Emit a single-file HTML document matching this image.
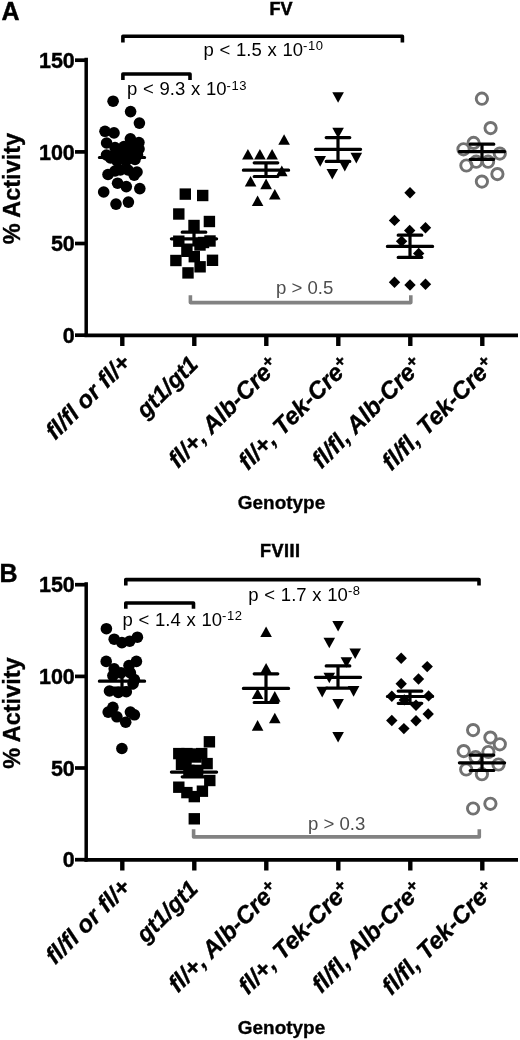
<!DOCTYPE html>
<html><head><meta charset="utf-8"><title>FV FVIII activity</title>
<style>html,body{margin:0;padding:0;background:#fff;}body{width:520px;height:1040px;overflow:hidden;font-family:"Liberation Sans", sans-serif;}svg{display:block;will-change:transform;}</style>
</head><body>
<svg width="520" height="1040" viewBox="0 0 520 1040" font-family='"Liberation Sans", sans-serif'>
<rect width="520" height="1040" fill="#fff"/>
<text x="1.5" y="20" font-weight="bold" font-size="25" stroke="#000" stroke-width="0.4">A</text>
<text x="281" y="15.4" text-anchor="middle" font-weight="bold" font-size="18" stroke="#000" stroke-width="0.5">FV</text>
<path d="M122.9 42.4V36.2H402.4V42.4" stroke="#000" stroke-width="3.6" fill="none" stroke-linejoin="round"/>
<text x="203.5" y="56" font-size="18.5" fill="#000"><tspan word-spacing="0.6">p &lt; 1.5 x 10</tspan><tspan font-size="13" dy="-5.8" letter-spacing="0.6">-10</tspan></text>
<path d="M122.9 80V74H190V80" stroke="#000" stroke-width="3.6" fill="none" stroke-linejoin="round"/>
<text x="127" y="95.3" font-size="18.5" fill="#000"><tspan word-spacing="0.6">p &lt; 9.3 x 10</tspan><tspan font-size="13" dy="-5.8" letter-spacing="0.6">-13</tspan></text>
<path d="M190.4 295.2V302.6H410.8V295.2" stroke="#828282" stroke-width="3.6" fill="none" stroke-linejoin="round"/>
<text x="276" y="293.5" font-size="18.6" fill="#4d4d4d">p &gt; 0.5</text>
<path d="M86.2 57.8V337.0" stroke="#000" stroke-width="3.5" fill="none"/>
<path d="M75 335.2H87" stroke="#000" stroke-width="3.7" fill="none"/>
<text x="74.8" y="342.9" text-anchor="end" font-weight="bold" font-size="21.5" stroke="#000" stroke-width="0.4">0</text>
<path d="M75 243.5H87" stroke="#000" stroke-width="3.7" fill="none"/>
<text x="74.8" y="251.2" text-anchor="end" font-weight="bold" font-size="21.5" stroke="#000" stroke-width="0.4">50</text>
<path d="M75 151.9H87" stroke="#000" stroke-width="3.7" fill="none"/>
<text x="74.8" y="159.6" text-anchor="end" font-weight="bold" font-size="21.5" stroke="#000" stroke-width="0.4">100</text>
<path d="M75 60.2H87" stroke="#000" stroke-width="3.7" fill="none"/>
<text x="74.8" y="67.9" text-anchor="end" font-weight="bold" font-size="21.5" stroke="#000" stroke-width="0.4">150</text>
<path d="M84.5 335.3H518" stroke="#000" stroke-width="3.8" fill="none"/>
<path d="M122.3 335.0V346.0" stroke="#000" stroke-width="4.4" fill="none"/>
<path d="M194.3 335.0V346.0" stroke="#000" stroke-width="4.4" fill="none"/>
<path d="M266.3 335.0V346.0" stroke="#000" stroke-width="4.4" fill="none"/>
<path d="M338.3 335.0V346.0" stroke="#000" stroke-width="4.4" fill="none"/>
<path d="M410.3 335.0V346.0" stroke="#000" stroke-width="4.4" fill="none"/>
<path d="M482.3 335.0V346.0" stroke="#000" stroke-width="4.4" fill="none"/>
<text transform="translate(19.8,188.6) rotate(-90)" text-anchor="middle" font-weight="bold" font-size="23.5" stroke="#000" stroke-width="0.35">% Activity</text>
<text x="281.5" y="509.2" text-anchor="middle" font-weight="bold" font-size="18.5" textLength="87.5" lengthAdjust="spacingAndGlyphs" stroke="#000" stroke-width="0.3">Genotype</text>
<text transform="translate(132,364.0) rotate(-45)" text-anchor="end" font-weight="bold" font-style="italic" font-size="24" stroke="#000" stroke-width="0.35">fl/fl or fl/+</text>
<text transform="translate(199.5,365.5) rotate(-45)" text-anchor="end" font-weight="bold" font-style="italic" font-size="23.2" stroke="#000" stroke-width="0.35">gt1/gt1</text>
<text transform="translate(280,367.0) rotate(-45)" text-anchor="end" font-weight="bold" font-style="italic" font-size="24" stroke="#000" stroke-width="0.35">fl/+, Alb-Cre<tspan font-size="17" dy="-7">+</tspan></text>
<text transform="translate(352,367.0) rotate(-45)" text-anchor="end" font-weight="bold" font-style="italic" font-size="24" stroke="#000" stroke-width="0.35">fl/+, Tek-Cre<tspan font-size="17" dy="-7">+</tspan></text>
<text transform="translate(424,367.0) rotate(-45)" text-anchor="end" font-weight="bold" font-style="italic" font-size="24" stroke="#000" stroke-width="0.35">fl/fl, Alb-Cre<tspan font-size="17" dy="-7">+</tspan></text>
<text transform="translate(496,367.0) rotate(-45)" text-anchor="end" font-weight="bold" font-style="italic" font-size="24" stroke="#000" stroke-width="0.35">fl/fl, Tek-Cre<tspan font-size="17" dy="-7">+</tspan></text>
<g fill="#000">
<circle cx="113.1" cy="101.2" r="5.8"/>
<circle cx="130.6" cy="111.6" r="5.8"/>
<circle cx="139.4" cy="123.1" r="5.8"/>
<circle cx="105.0" cy="131.3" r="5.8"/>
<circle cx="114.0" cy="132.9" r="5.8"/>
<circle cx="106.6" cy="143.0" r="5.8"/>
<circle cx="130.4" cy="138.8" r="5.8"/>
<circle cx="138.9" cy="142.5" r="5.8"/>
<circle cx="115.0" cy="147.5" r="5.8"/>
<circle cx="124.0" cy="146.5" r="5.8"/>
<circle cx="133.0" cy="147.5" r="5.8"/>
<circle cx="139.0" cy="149.0" r="5.8"/>
<circle cx="106.5" cy="155.0" r="5.8"/>
<circle cx="113.0" cy="156.0" r="5.8"/>
<circle cx="121.0" cy="153.0" r="5.8"/>
<circle cx="130.0" cy="154.0" r="5.8"/>
<circle cx="137.5" cy="155.0" r="5.8"/>
<circle cx="110.5" cy="158.0" r="5.8"/>
<circle cx="117.0" cy="161.0" r="5.8"/>
<circle cx="126.0" cy="161.0" r="5.8"/>
<circle cx="135.0" cy="159.5" r="5.8"/>
<circle cx="108.0" cy="174.5" r="5.8"/>
<circle cx="115.0" cy="171.0" r="5.8"/>
<circle cx="120.4" cy="170.0" r="5.8"/>
<circle cx="128.0" cy="170.0" r="5.8"/>
<circle cx="134.2" cy="175.2" r="5.8"/>
<circle cx="137.0" cy="172.0" r="5.8"/>
<circle cx="117.6" cy="183.2" r="5.8"/>
<circle cx="126.3" cy="186.6" r="5.8"/>
<circle cx="139.8" cy="188.6" r="5.8"/>
<circle cx="103.7" cy="192.0" r="5.8"/>
<circle cx="116.0" cy="204.1" r="5.8"/>
<circle cx="128.4" cy="202.1" r="5.8"/>
<rect x="179.6" y="188.4" width="11.4" height="11.4"/>
<rect x="197.0" y="189.8" width="11.4" height="11.4"/>
<rect x="173.1" y="208.3" width="11.4" height="11.4"/>
<rect x="203.7" y="215.8" width="11.4" height="11.4"/>
<rect x="188.3" y="219.8" width="11.4" height="11.4"/>
<rect x="173.1" y="235.5" width="11.4" height="11.4"/>
<rect x="197.8" y="236.8" width="11.4" height="11.4"/>
<rect x="204.3" y="235.3" width="11.4" height="11.4"/>
<rect x="194.3" y="239.3" width="11.4" height="11.4"/>
<rect x="181.2" y="245.6" width="11.4" height="11.4"/>
<rect x="188.6" y="251.0" width="11.4" height="11.4"/>
<rect x="170.2" y="254.8" width="11.4" height="11.4"/>
<rect x="206.8" y="254.6" width="11.4" height="11.4"/>
<rect x="194.4" y="261.1" width="11.4" height="11.4"/>
<rect x="182.3" y="267.2" width="11.4" height="11.4"/>
<path d="M284.1 134.2L289.9 144.8L278.3 144.8Z"/>
<path d="M247.9 149.0L253.7 159.6L242.1 159.6Z"/>
<path d="M259.9 149.0L265.7 159.6L254.1 159.6Z"/>
<path d="M272.1 149.0L277.9 159.6L266.3 159.6Z"/>
<path d="M281.8 165.6L287.6 176.2L276.0 176.2Z"/>
<path d="M250.6 175.9L256.4 186.5L244.8 186.5Z"/>
<path d="M266.1 178.6L271.9 189.2L260.3 189.2Z"/>
<path d="M274.8 189.0L280.6 199.6L269.0 199.6Z"/>
<path d="M257.6 195.5L263.4 206.1L251.8 206.1Z"/>
<path d="M332.3 92.2L343.9 92.2L338.1 102.8Z"/>
<path d="M332.3 127.7L343.9 127.7L338.1 138.3Z"/>
<path d="M314.4 156.1L326.0 156.1L320.2 166.7Z"/>
<path d="M350.5 152.8L362.1 152.8L356.3 163.4Z"/>
<path d="M339.0 160.8L350.6 160.8L344.8 171.4Z"/>
<path d="M326.5 168.9L338.1 168.9L332.3 179.5Z"/>
<path d="M410.0 187.1L415.7 192.8L410.0 198.5L404.3 192.8Z"/>
<path d="M394.5 214.7L400.2 220.4L394.5 226.1L388.8 220.4Z"/>
<path d="M425.5 222.1L431.2 227.8L425.5 233.5L419.8 227.8Z"/>
<path d="M409.7 224.8L415.4 230.5L409.7 236.2L404.0 230.5Z"/>
<path d="M401.6 235.5L407.3 241.2L401.6 246.9L395.9 241.2Z"/>
<path d="M418.7 247.7L424.4 253.4L418.7 259.1L413.0 253.4Z"/>
<path d="M394.5 276.6L400.2 282.3L394.5 288.0L388.8 282.3Z"/>
<path d="M410.0 279.3L415.7 285.0L410.0 290.7L404.3 285.0Z"/>
<path d="M425.5 278.6L431.2 284.3L425.5 290.0L419.8 284.3Z"/>
<circle cx="481.9" cy="98.7" r="5.65" fill="none" stroke="#727272" stroke-width="2.9"/>
<circle cx="490.6" cy="128.1" r="5.65" fill="none" stroke="#727272" stroke-width="2.9"/>
<circle cx="473.6" cy="142.9" r="5.65" fill="none" stroke="#727272" stroke-width="2.9"/>
<circle cx="463.5" cy="149.3" r="5.65" fill="none" stroke="#727272" stroke-width="2.9"/>
<circle cx="499.8" cy="153.6" r="5.65" fill="none" stroke="#727272" stroke-width="2.9"/>
<circle cx="476.2" cy="161.7" r="5.65" fill="none" stroke="#727272" stroke-width="2.9"/>
<circle cx="488.1" cy="161.7" r="5.65" fill="none" stroke="#727272" stroke-width="2.9"/>
<circle cx="466.4" cy="165.5" r="5.65" fill="none" stroke="#727272" stroke-width="2.9"/>
<circle cx="497.4" cy="174.1" r="5.65" fill="none" stroke="#727272" stroke-width="2.9"/>
<circle cx="481.9" cy="181.6" r="5.65" fill="none" stroke="#727272" stroke-width="2.9"/>
</g>
<path d="M99.4 157.5H144.6M110.2 153.5H133.8M110.2 161.5H133.8M122.0 153.5V161.5" stroke="#000" stroke-width="3.2" fill="none" stroke-linecap="round"/>
<path d="M171.4 238.8H216.6M182.2 232.2H205.8M182.2 245.0H205.8M194.0 232.2V245.0" stroke="#000" stroke-width="3.2" fill="none" stroke-linecap="round"/>
<path d="M243.4 170.2H288.6M254.2 162.8H277.8M254.2 176.5H277.8M266.0 162.8V176.5" stroke="#000" stroke-width="3.2" fill="none" stroke-linecap="round"/>
<path d="M315.4 149.3H360.6M326.2 137.6H349.8M326.2 161.4H349.8M338.0 137.6V161.4" stroke="#000" stroke-width="3.2" fill="none" stroke-linecap="round"/>
<path d="M387.4 246.4H432.6M398.2 235.2H421.8M398.2 257.4H421.8M410.0 235.2V257.4" stroke="#000" stroke-width="3.2" fill="none" stroke-linecap="round"/>
<path d="M459.4 151.6H504.6M470.2 144.2H493.8M470.2 159.3H493.8M482.0 144.2V159.3" stroke="#000" stroke-width="3.2" fill="none" stroke-linecap="round"/>
<text x="-0.5" y="581.5" font-weight="bold" font-size="25" stroke="#000" stroke-width="0.4">B</text>
<text x="280.1" y="556.6" text-anchor="middle" font-weight="bold" font-size="18" textLength="40" lengthAdjust="spacing" stroke="#000" stroke-width="0.5">FVIII</text>
<path d="M125.8 585.6V579.6H479V585.6" stroke="#000" stroke-width="3.6" fill="none" stroke-linejoin="round"/>
<text x="248.3" y="601" font-size="18.5" fill="#000"><tspan word-spacing="0.6">p &lt; 1.7 x 10</tspan><tspan font-size="13" dy="-5.8" letter-spacing="0.6">-8</tspan></text>
<path d="M125.8 608.8V603H193.5V608.8" stroke="#000" stroke-width="3.6" fill="none" stroke-linejoin="round"/>
<text x="122.5" y="626" font-size="18.5" fill="#000"><tspan word-spacing="0.6">p &lt; 1.4 x 10</tspan><tspan font-size="13" dy="-5.8" letter-spacing="0.6">-12</tspan></text>
<path d="M193.6 829.3V836.9H479.3V829.3" stroke="#828282" stroke-width="3.6" fill="none" stroke-linejoin="round"/>
<text x="308" y="830" font-size="18.6" fill="#4d4d4d">p &gt; 0.3</text>
<path d="M86.2 582.3V861.5" stroke="#000" stroke-width="3.5" fill="none"/>
<path d="M75 859.7H87" stroke="#000" stroke-width="3.7" fill="none"/>
<text x="74.8" y="867.4" text-anchor="end" font-weight="bold" font-size="21.5" stroke="#000" stroke-width="0.4">0</text>
<path d="M75 768.0H87" stroke="#000" stroke-width="3.7" fill="none"/>
<text x="74.8" y="775.7" text-anchor="end" font-weight="bold" font-size="21.5" stroke="#000" stroke-width="0.4">50</text>
<path d="M75 676.4H87" stroke="#000" stroke-width="3.7" fill="none"/>
<text x="74.8" y="684.1" text-anchor="end" font-weight="bold" font-size="21.5" stroke="#000" stroke-width="0.4">100</text>
<path d="M75 584.7H87" stroke="#000" stroke-width="3.7" fill="none"/>
<text x="74.8" y="592.4" text-anchor="end" font-weight="bold" font-size="21.5" stroke="#000" stroke-width="0.4">150</text>
<path d="M84.5 859.8H518" stroke="#000" stroke-width="3.8" fill="none"/>
<path d="M122.3 859.5V870.5" stroke="#000" stroke-width="4.4" fill="none"/>
<path d="M194.3 859.5V870.5" stroke="#000" stroke-width="4.4" fill="none"/>
<path d="M266.3 859.5V870.5" stroke="#000" stroke-width="4.4" fill="none"/>
<path d="M338.3 859.5V870.5" stroke="#000" stroke-width="4.4" fill="none"/>
<path d="M410.3 859.5V870.5" stroke="#000" stroke-width="4.4" fill="none"/>
<path d="M482.3 859.5V870.5" stroke="#000" stroke-width="4.4" fill="none"/>
<text transform="translate(19.8,713.1) rotate(-90)" text-anchor="middle" font-weight="bold" font-size="23.5" stroke="#000" stroke-width="0.35">% Activity</text>
<text x="281.5" y="1033.7" text-anchor="middle" font-weight="bold" font-size="18.5" textLength="87.5" lengthAdjust="spacingAndGlyphs" stroke="#000" stroke-width="0.3">Genotype</text>
<text transform="translate(132,888.5) rotate(-45)" text-anchor="end" font-weight="bold" font-style="italic" font-size="24" stroke="#000" stroke-width="0.35">fl/fl or fl/+</text>
<text transform="translate(199.5,890.0) rotate(-45)" text-anchor="end" font-weight="bold" font-style="italic" font-size="23.2" stroke="#000" stroke-width="0.35">gt1/gt1</text>
<text transform="translate(280,891.5) rotate(-45)" text-anchor="end" font-weight="bold" font-style="italic" font-size="24" stroke="#000" stroke-width="0.35">fl/+, Alb-Cre<tspan font-size="17" dy="-7">+</tspan></text>
<text transform="translate(352,891.5) rotate(-45)" text-anchor="end" font-weight="bold" font-style="italic" font-size="24" stroke="#000" stroke-width="0.35">fl/+, Tek-Cre<tspan font-size="17" dy="-7">+</tspan></text>
<text transform="translate(424,891.5) rotate(-45)" text-anchor="end" font-weight="bold" font-style="italic" font-size="24" stroke="#000" stroke-width="0.35">fl/fl, Alb-Cre<tspan font-size="17" dy="-7">+</tspan></text>
<text transform="translate(496,891.5) rotate(-45)" text-anchor="end" font-weight="bold" font-style="italic" font-size="24" stroke="#000" stroke-width="0.35">fl/fl, Tek-Cre<tspan font-size="17" dy="-7">+</tspan></text>
<g fill="#000">
<circle cx="106.4" cy="628.7" r="5.8"/>
<circle cx="114.2" cy="639.2" r="5.8"/>
<circle cx="121.9" cy="642.6" r="5.8"/>
<circle cx="129.7" cy="641.2" r="5.8"/>
<circle cx="137.4" cy="637.2" r="5.8"/>
<circle cx="106.2" cy="661.4" r="5.8"/>
<circle cx="136.4" cy="661.4" r="5.8"/>
<circle cx="129.0" cy="665.5" r="5.8"/>
<circle cx="114.2" cy="668.8" r="5.8"/>
<circle cx="121.0" cy="672.9" r="5.8"/>
<circle cx="130.4" cy="672.9" r="5.8"/>
<circle cx="112.9" cy="675.6" r="5.8"/>
<circle cx="134.4" cy="679.6" r="5.8"/>
<circle cx="133.1" cy="683.6" r="5.8"/>
<circle cx="109.5" cy="691.0" r="5.8"/>
<circle cx="118.3" cy="692.4" r="5.8"/>
<circle cx="126.3" cy="691.7" r="5.8"/>
<circle cx="112.9" cy="707.4" r="5.8"/>
<circle cx="108.2" cy="712.1" r="5.8"/>
<circle cx="116.9" cy="716.8" r="5.8"/>
<circle cx="125.7" cy="722.2" r="5.8"/>
<circle cx="130.4" cy="712.1" r="5.8"/>
<circle cx="134.4" cy="714.8" r="5.8"/>
<circle cx="121.9" cy="748.5" r="5.8"/>
<rect x="203.7" y="736.1" width="11.4" height="11.4"/>
<rect x="173.1" y="747.9" width="11.4" height="11.4"/>
<rect x="181.2" y="747.9" width="11.4" height="11.4"/>
<rect x="188.6" y="748.3" width="11.4" height="11.4"/>
<rect x="196.0" y="747.9" width="11.4" height="11.4"/>
<rect x="175.8" y="758.6" width="11.4" height="11.4"/>
<rect x="201.4" y="757.9" width="11.4" height="11.4"/>
<rect x="183.2" y="764.7" width="11.4" height="11.4"/>
<rect x="192.0" y="764.7" width="11.4" height="11.4"/>
<rect x="204.1" y="774.8" width="11.4" height="11.4"/>
<rect x="173.1" y="781.5" width="11.4" height="11.4"/>
<rect x="181.2" y="786.9" width="11.4" height="11.4"/>
<rect x="196.7" y="785.5" width="11.4" height="11.4"/>
<rect x="188.6" y="790.9" width="11.4" height="11.4"/>
<rect x="188.6" y="813.1" width="11.4" height="11.4"/>
<rect x="180.3" y="755.3" width="11.4" height="11.4"/>
<rect x="190.3" y="751.3" width="11.4" height="11.4"/>
<path d="M266.1 626.5L271.9 637.1L260.3 637.1Z"/>
<path d="M266.1 662.9L271.9 673.5L260.3 673.5Z"/>
<path d="M257.6 688.4L263.4 699.0L251.8 699.0Z"/>
<path d="M274.8 691.1L280.6 701.7L269.0 701.7Z"/>
<path d="M274.8 712.7L280.6 723.3L269.0 723.3Z"/>
<path d="M257.6 720.1L263.4 730.7L251.8 730.7Z"/>
<path d="M332.3 620.9L343.9 620.9L338.1 631.5Z"/>
<path d="M323.5 637.7L335.1 637.7L329.3 648.3Z"/>
<path d="M349.4 648.4L361.0 648.4L355.2 659.0Z"/>
<path d="M340.6 657.2L352.2 657.2L346.4 667.8Z"/>
<path d="M323.5 672.7L335.1 672.7L329.3 683.3Z"/>
<path d="M316.4 686.8L328.0 686.8L322.2 697.4Z"/>
<path d="M347.8 686.1L359.4 686.1L353.6 696.7Z"/>
<path d="M332.3 698.9L343.9 698.9L338.1 709.5Z"/>
<path d="M332.3 731.9L343.9 731.9L338.1 742.5Z"/>
<path d="M401.2 652.5L406.9 658.2L401.2 663.9L395.5 658.2Z"/>
<path d="M427.2 660.9L432.9 666.6L427.2 672.3L421.5 666.6Z"/>
<path d="M418.5 673.3L424.2 679.0L418.5 684.7L412.8 679.0Z"/>
<path d="M401.2 678.0L406.9 683.7L401.2 689.4L395.5 683.7Z"/>
<path d="M391.8 690.6L397.5 696.3L391.8 702.0L386.1 696.3Z"/>
<path d="M428.6 690.2L434.3 695.9L428.6 701.6L422.9 695.9Z"/>
<path d="M404.3 694.2L410.0 699.9L404.3 705.6L398.6 699.9Z"/>
<path d="M416.0 699.6L421.7 705.3L416.0 711.0L410.3 705.3Z"/>
<path d="M428.2 708.3L433.9 714.0L428.2 719.7L422.5 714.0Z"/>
<path d="M391.8 714.8L397.5 720.5L391.8 726.2L386.1 720.5Z"/>
<path d="M416.0 715.1L421.7 720.8L416.0 726.5L410.3 720.8Z"/>
<path d="M403.9 722.9L409.6 728.6L403.9 734.3L398.2 728.6Z"/>
<circle cx="473.1" cy="730.1" r="5.65" fill="none" stroke="#727272" stroke-width="2.9"/>
<circle cx="490.4" cy="737.6" r="5.65" fill="none" stroke="#727272" stroke-width="2.9"/>
<circle cx="499.8" cy="744.3" r="5.65" fill="none" stroke="#727272" stroke-width="2.9"/>
<circle cx="463.7" cy="751.1" r="5.65" fill="none" stroke="#727272" stroke-width="2.9"/>
<circle cx="488.4" cy="752.0" r="5.65" fill="none" stroke="#727272" stroke-width="2.9"/>
<circle cx="475.6" cy="757.0" r="5.65" fill="none" stroke="#727272" stroke-width="2.9"/>
<circle cx="498.5" cy="764.5" r="5.65" fill="none" stroke="#727272" stroke-width="2.9"/>
<circle cx="466.2" cy="769.5" r="5.65" fill="none" stroke="#727272" stroke-width="2.9"/>
<circle cx="481.9" cy="774.2" r="5.65" fill="none" stroke="#727272" stroke-width="2.9"/>
<circle cx="490.4" cy="803.8" r="5.65" fill="none" stroke="#727272" stroke-width="2.9"/>
<circle cx="473.1" cy="808.5" r="5.65" fill="none" stroke="#727272" stroke-width="2.9"/>
</g>
<path d="M99.4 681.2H144.6M110.2 674.5H133.8M110.2 688.0H133.8M122.0 674.5V688.0" stroke="#000" stroke-width="3.2" fill="none" stroke-linecap="round"/>
<path d="M171.4 772.1H216.6M182.2 767.0H205.8M182.2 776.8H205.8M194.0 767.0V776.8" stroke="#000" stroke-width="3.2" fill="none" stroke-linecap="round"/>
<path d="M243.4 688.4H288.6M254.2 673.8H277.8M254.2 702.5H277.8M266.0 673.8V702.5" stroke="#000" stroke-width="3.2" fill="none" stroke-linecap="round"/>
<path d="M315.4 677.3H360.6M326.2 665.9H349.8M326.2 688.1H349.8M338.0 665.9V688.1" stroke="#000" stroke-width="3.2" fill="none" stroke-linecap="round"/>
<path d="M387.4 696.5H432.6M398.2 691.1H421.8M398.2 703.3H421.8M410.0 691.1V703.3" stroke="#000" stroke-width="3.2" fill="none" stroke-linecap="round"/>
<path d="M459.4 762.8H504.6M470.2 755.1H493.8M470.2 770.5H493.8M482.0 755.1V770.5" stroke="#000" stroke-width="3.2" fill="none" stroke-linecap="round"/>
</svg>
</body></html>
